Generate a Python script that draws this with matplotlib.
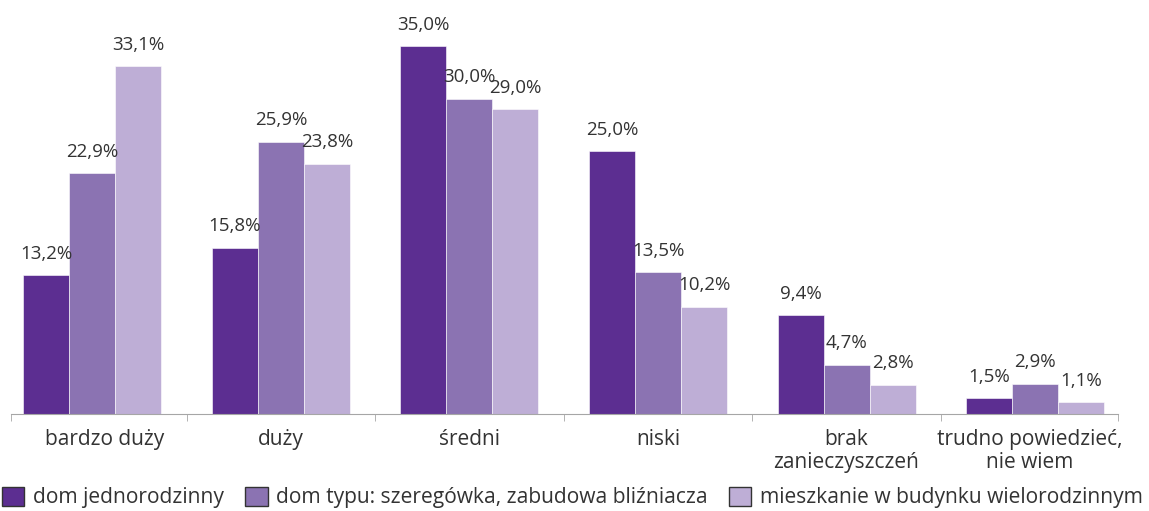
import numpy as np
import matplotlib
matplotlib.use("Agg")
import matplotlib.pyplot as plt
from matplotlib.patches import Patch

plt.rcParams['font.family'] = ['Open Sans', 'DejaVu Sans']

# poziom zanieczyszczenia powietrza wg typu zabudowy (%)
kategorie = ["bardzo duży", "duży", "średni", "niski",
             "brak\nzanieczyszczeń", "trudno powiedzieć,\nnie wiem"]
serie = ["dom jednorodzinny",
         "dom typu: szeregówka, zabudowa bliźniacza",
         "mieszkanie w budynku wielorodzinnym"]
jednorodzinny = [13.2, 15.8, 35.0, 25.0, 9.4, 1.5]
szeregowka = [22.9, 25.9, 30.0, 13.5, 4.7, 2.9]
wielorodzinny = [33.1, 23.8, 29.0, 10.2, 2.8, 1.1]

kolory = ["#5C2E91", "#8B73B2", "#BEAED6"]
tekst = "#333333"

fig = plt.figure(figsize=(11.49, 5.11), dpi=100)
ax = fig.add_axes([11 / 1149, 97 / 511, 1107 / 1149, 414 / 511])

x = np.arange(len(kategorie))
w = 0.244
for i, (dane, kol) in enumerate(zip([jednorodzinny, szeregowka, wielorodzinny], kolory)):
    pos = x + (i - 1) * w
    ax.bar(pos, dane, width=w, color=kol, edgecolor="white", linewidth=0.4)
    for xx, v in zip(pos, dane):
        ax.text(xx, v + 1.2, f"{v:.1f}%".replace(".", ","), ha="center", va="bottom",
                fontsize=13.5, color=tekst)

for s in ["top", "right", "left"]:
    ax.spines[s].set_visible(False)
ax.spines["bottom"].set_color("#A6A6A6")
ax.set_yticks([])

x0, x1 = -0.432, 5.44
granice = [x0] + list(np.arange(0.5, len(kategorie) - 1)) + [x1]
# podpisy na środku przedziałów między kreskami osi
srodki = [(a + b) / 2 for a, b in zip(granice[:-1], granice[1:])]
srodki[0] += 0.03
ax.set_xticks(srodki)
ax.set_xticklabels(kategorie, fontsize=15, color=tekst, linespacing=1.1)
ax.tick_params(axis="x", which="major", length=0, pad=11)
ax.set_xticks(granice, minor=True)
ax.tick_params(axis="x", which="minor", length=5, color="#A6A6A6")

# limity dopiero po tickach, bo set_xticks rozszerza zakres
ax.set_xlim(x0, x1)
ax.set_ylim(0, 39.4)

uchwyty = [Patch(facecolor=k, edgecolor="#333333", linewidth=1.0) for k in kolory]
fig.legend(uchwyty, serie, loc="lower left", bbox_to_anchor=(-0.0145, -0.032), ncol=3,
           frameon=False, fontsize=15.1, handlelength=1.06, handleheight=1.06,
           handletextpad=0.4, columnspacing=1.03, labelcolor=tekst)

fig.savefig("out.png", dpi=100)
